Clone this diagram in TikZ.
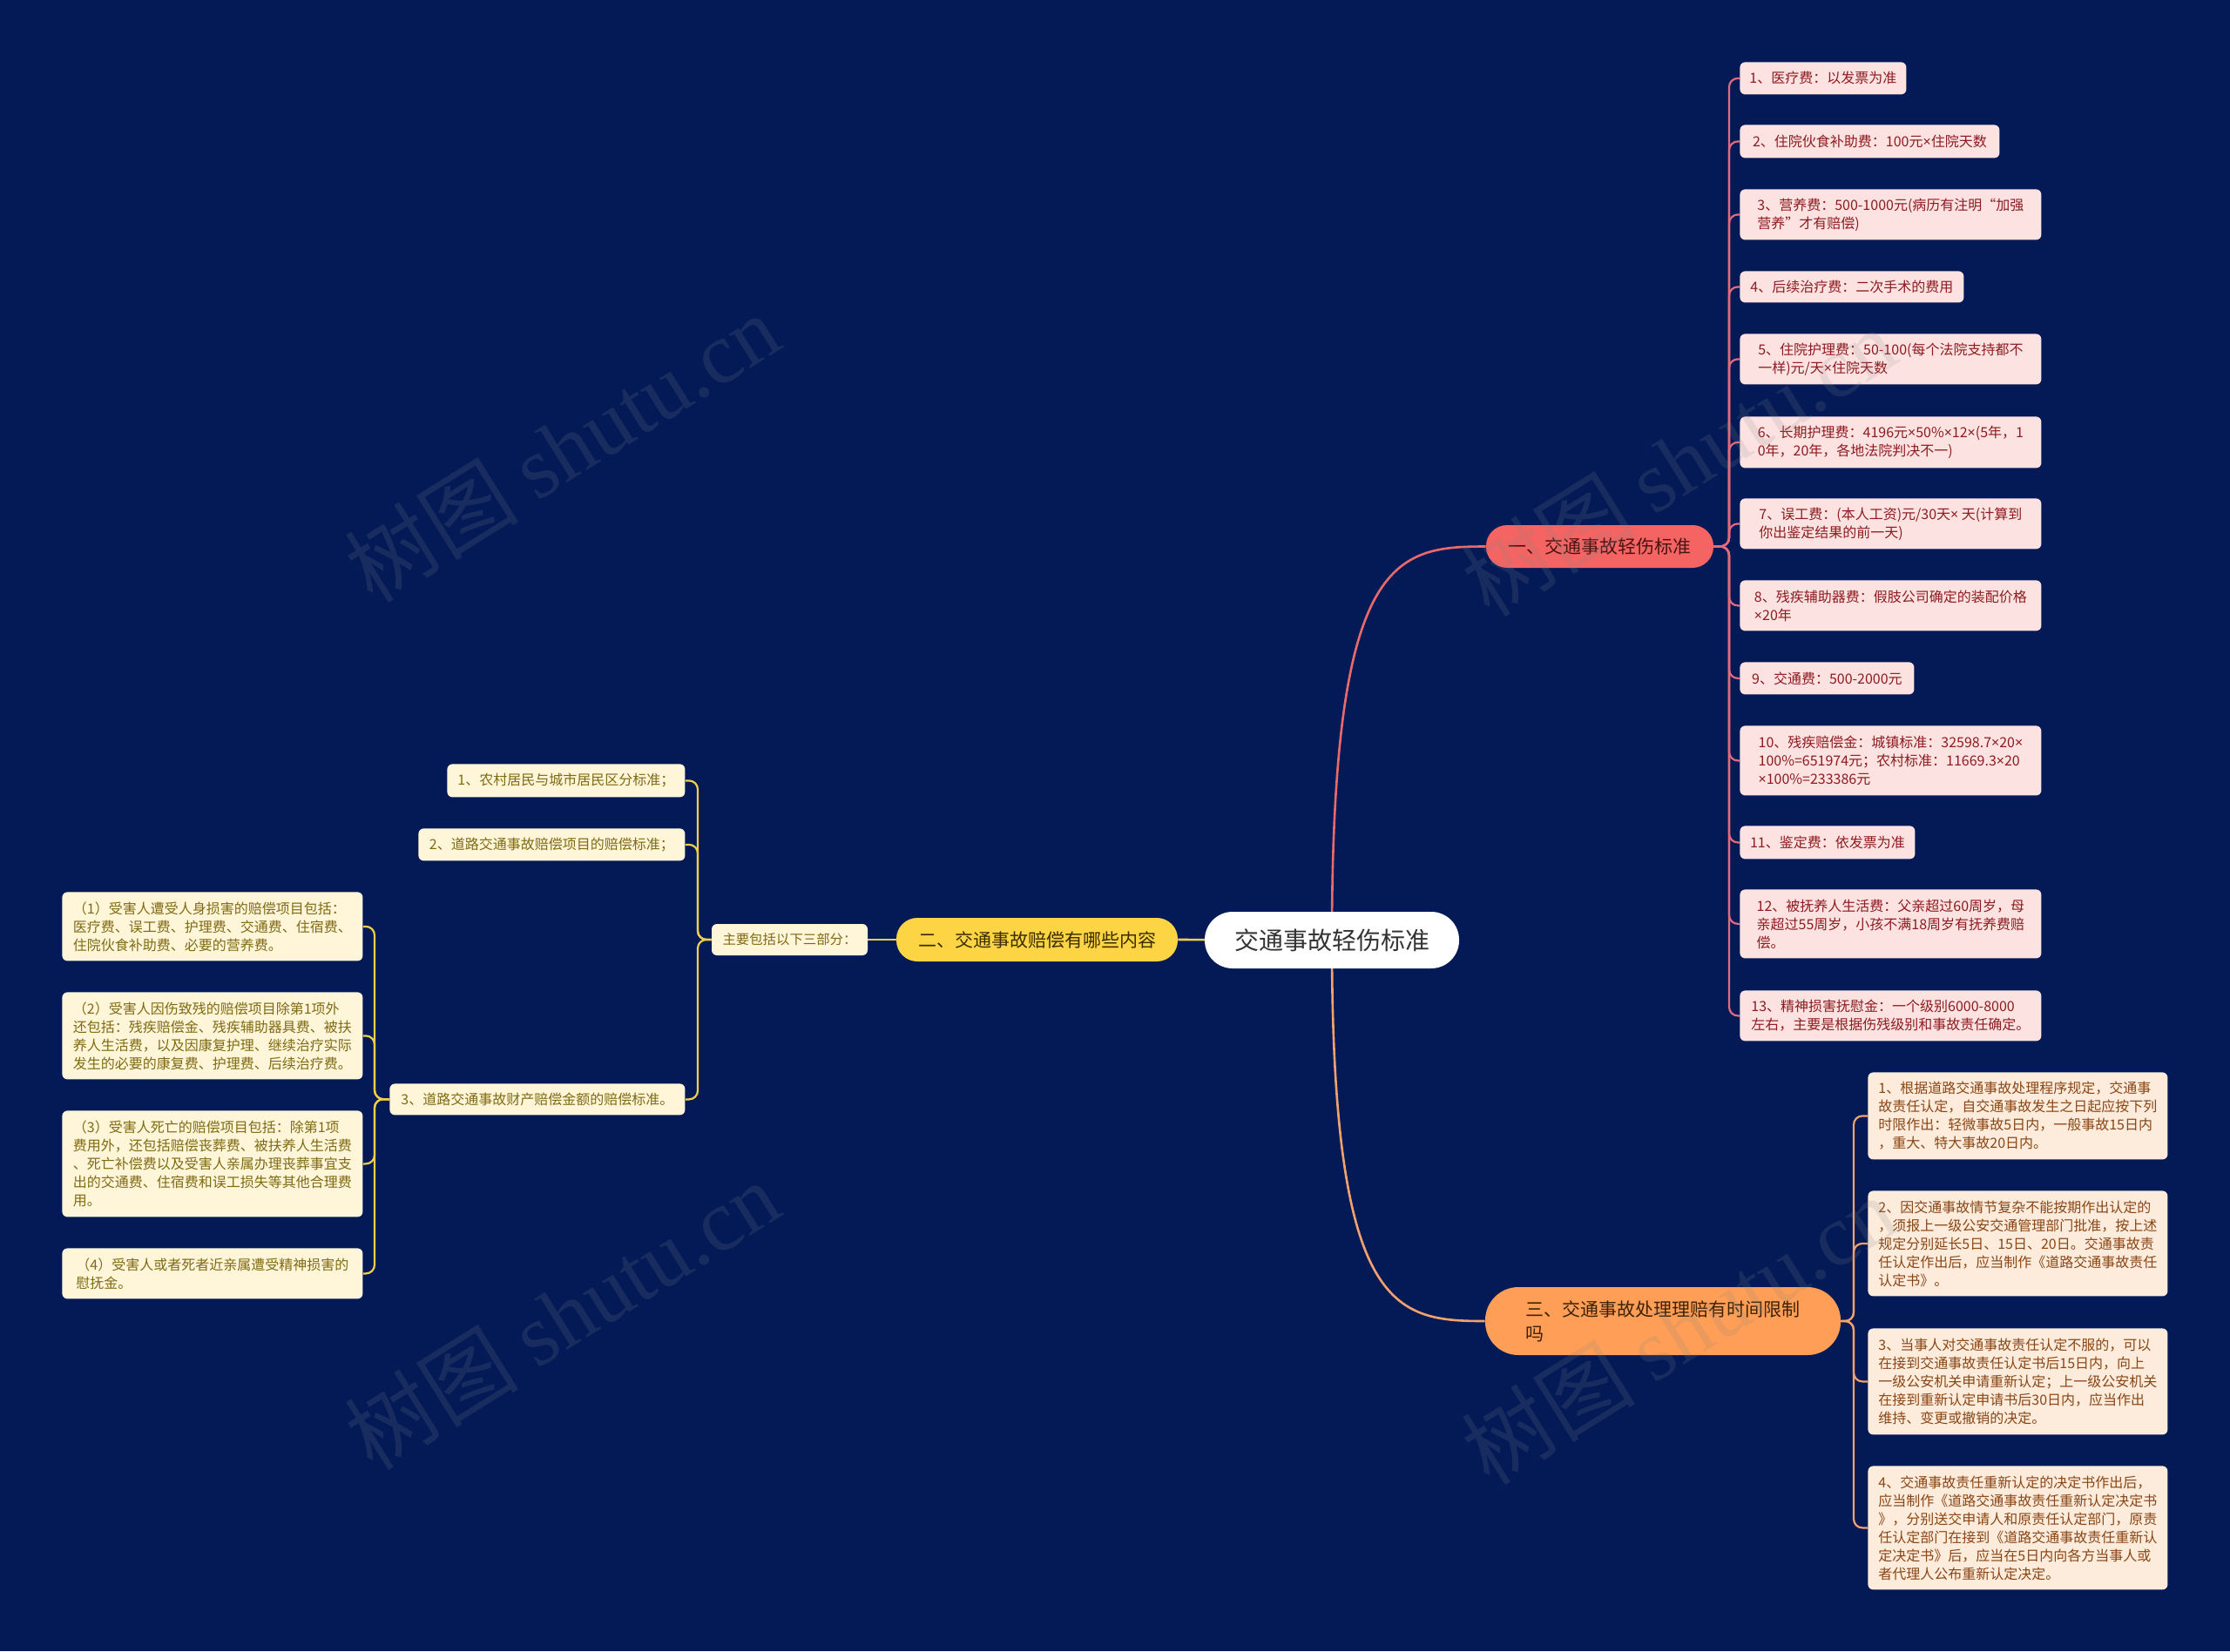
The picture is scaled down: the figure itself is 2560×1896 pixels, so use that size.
\documentclass[tikz,border=0pt]{standalone}
\usepackage{fontspec}
\setmainfont{Noto Sans CJK SC}
\newfontfamily\wmlatin{Liberation Serif}
\newfontfamily\latinf{Noto Sans}
\newcommand\tms{{\latinf ×}}
\usetikzlibrary{calc}
\pgfdeclarelayer{bgl}
\pgfdeclarelayer{edges}
\pgfdeclarelayer{fg}
\pgfsetlayers{bgl,edges,main,fg}
\definecolor{bgc}{HTML}{031A57}
\definecolor{rootText}{HTML}{333333}
\definecolor{bOneFill}{HTML}{F36462}
\definecolor{bOneText}{HTML}{4A1414}
\definecolor{pinkFill}{HTML}{FDE2E2}
\definecolor{pinkText}{HTML}{8E1B1F}
\definecolor{pinkEdge}{HTML}{E26A7C}
\definecolor{bTwoFill}{HTML}{FDD443}
\definecolor{bTwoText}{HTML}{3A2E00}
\definecolor{creamFill}{HTML}{FFF6DA}
\definecolor{creamText}{HTML}{7F6A12}
\definecolor{yellowEdge}{HTML}{F2CF4A}
\definecolor{bThreeFill}{HTML}{FF9E56}
\definecolor{bThreeText}{HTML}{3D2206}
\definecolor{peachFill}{HTML}{FDEBDC}
\definecolor{peachText}{HTML}{8A4614}
\definecolor{orangeEdge}{HTML}{F4A26B}
\definecolor{redEdge}{HTML}{EA6A6C}
\definecolor{wmGray}{HTML}{8A8A8A}
\tikzset{
  card/.style={rectangle, rounded corners=3pt, anchor=north west, align=left,
    inner xsep=4pt, inner ysep=3pt, font=\fontsize{8pt}{10.5pt}\selectfont},
  pinkcard/.style={card, fill=pinkFill, text=pinkText, minimum width=173pt},
  creamcard/.style={card, fill=creamFill, text=creamText},
  peachcard/.style={card, fill=peachFill, text=peachText, minimum width=172pt},
  branch/.style={rectangle, align=left, inner sep=0pt,
    font=\fontsize{10.5pt}{12.5pt}\selectfont},
  edgeline/.style={line width=1.1pt, rounded corners=5pt},
  wm/.style={rotate=32, text=wmGray, text opacity=0.17,
    font=\fontsize{50pt}{50pt}\selectfont, inner sep=0pt}
}
\begin{document}
\begin{tikzpicture}[x=0.5pt, y=-0.5pt]
\begin{pgfonlayer}{bgl}
\fill[bgc] (0,0) rectangle (2560,1896);
\end{pgfonlayer}
\useasboundingbox (0,0) rectangle (2560,1896);

% root and branches
\node[branch, fill=white, text=rootText, rounded corners=16pt, minimum width=146pt,
  minimum height=32.5pt, font=\fontsize{14pt}{16pt}\selectfont] (root) at (1529,1079.5) {交通事故轻伤标准};
\node[branch, fill=bOneFill, text=bOneText, rounded corners=12pt, minimum width=130.5pt,
  minimum height=24.5pt] (b1) at (1836.5,627.5) {一、交通事故轻伤标准};
\node[branch, fill=bTwoFill, text=bTwoText, rounded corners=12pt, minimum width=161.5pt,
  minimum height=25pt] (b2) at (1190.5,1079) {二、交通事故赔偿有哪些内容};
\node[branch, fill=bThreeFill, text=bThreeText, rounded corners=19pt, minimum width=204pt,
  minimum height=39pt, font=\fontsize{10.5pt}{14pt}\selectfont] (b3) at (1909,1517) {三、交通事故处理理赔有时间限制\\吗};

% branch 1 children
\node[pinkcard, minimum width=95.5pt, minimum height=18.5pt] (r1) at (1997,71) {1、医疗费：以发票为准};
\node[pinkcard, minimum width=149pt, minimum height=19pt] (r2) at (1997,143) {2、住院伙食补助费：100元\tms 住院天数};
\node[pinkcard, minimum height=29pt] (r3) at (1997,217) {3、营养费：500-1000元(病历有注明“加强\\营养”才有赔偿)};
\node[pinkcard, minimum width=128.5pt, minimum height=18pt] (r4) at (1997,311) {4、后续治疗费：二次手术的费用};
\node[pinkcard, minimum height=29pt] (r5) at (1997,383) {5、住院护理费：50-100(每个法院支持都不\\一样)元/天\tms 住院天数};
\node[pinkcard, minimum height=29.5pt] (r6) at (1997,478) {6、长期护理费：4196元\tms 50\%\tms 12\tms (5年，1\\0年，20年，各地法院判决不一)};
\node[pinkcard, minimum height=29pt] (r7) at (1997,572) {7、误工费：(本人工资)元/30天\tms\ 天(计算到\\你出鉴定结果的前一天)};
\node[pinkcard, minimum height=29pt] (r8) at (1997,666) {8、残疾辅助器费：假肢公司确定的装配价格\\\tms 20年};
\node[pinkcard, minimum width=100pt, minimum height=18.5pt] (r9) at (1997,760) {9、交通费：500-2000元};
\node[pinkcard, minimum height=40pt] (r10) at (1997,833) {10、残疾赔偿金：城镇标准：32598.7\tms 20\tms\\100\%=651974元；农村标准：11669.3\tms 20\\\tms 100\%=233386元};
\node[pinkcard, minimum width=100.5pt, minimum height=19pt] (r11) at (1997,948) {11、鉴定费：依发票为准};
\node[pinkcard, minimum height=39.5pt] (r12) at (1997,1021) {12、被抚养人生活费：父亲超过60周岁，母\\亲超过55周岁，小孩不满18周岁有抚养费赔\\偿。};
\node[pinkcard, minimum height=29pt] (r13) at (1997,1137) {13、精神损害抚慰金：一个级别6000-8000\\左右，主要是根据伤残级别和事故责任确定。};

% branch 3 children
\node[peachcard, minimum height=50pt] (t1) at (2144,1231) {1、根据道路交通事故处理程序规定，交通事\\故责任认定，自交通事故发生之日起应按下列\\时限作出：轻微事故5日内，一般事故15日内\\，重大、特大事故20日内。};
\node[peachcard, minimum height=60.5pt] (t2) at (2144,1367) {2、因交通事故情节复杂不能按期作出认定的\\，须报上一级公安交通管理部门批准，按上述\\规定分别延长5日、15日、20日。交通事故责\\任认定作出后，应当制作《道路交通事故责任\\认定书》。};
\node[peachcard, minimum height=61pt] (t3) at (2144,1525) {3、当事人对交通事故责任认定不服的，可以\\在接到交通事故责任认定书后15日内，向上\\一级公安机关申请重新认定；上一级公安机关\\在接到重新认定申请书后30日内，应当作出\\维持、变更或撤销的决定。};
\node[peachcard, minimum height=71pt] (t4) at (2144,1683) {4、交通事故责任重新认定的决定书作出后，\\应当制作《道路交通事故责任重新认定决定书\\》，分别送交申请人和原责任认定部门，原责\\任认定部门在接到《道路交通事故责任重新认\\定决定书》后，应当在5日内向各方当事人或\\者代理人公布重新认定决定。};

% branch 2 subtree
\node[creamcard, minimum width=89.5pt, minimum height=18pt, anchor=center,
  font=\fontsize{7.7pt}{9pt}\selectfont] (m) at (906.5,1079) {主要包括以下三部分：};
\node[creamcard, minimum width=136.5pt, minimum height=19pt] (l1) at (513,877) {1、农村居民与城市居民区分标准；};
\node[creamcard, minimum width=153pt, minimum height=18.5pt] (l2) at (480,951) {2、道路交通事故赔偿项目的赔偿标准；};
\node[creamcard, minimum width=169.5pt, minimum height=18pt] (l3) at (447,1244) {3、道路交通事故财产赔偿金额的赔偿标准。};
\node[creamcard, minimum width=172.5pt, minimum height=39.5pt] (p1) at (71,1024) {（1）受害人遭受人身损害的赔偿项目包括：\\医疗费、误工费、护理费、交通费、住宿费、\\住院伙食补助费、必要的营养费。};
\node[creamcard, minimum width=172.5pt, minimum height=50pt] (p2) at (71,1139) {（2）受害人因伤致残的赔偿项目除第1项外\\还包括：残疾赔偿金、残疾辅助器具费、被扶\\养人生活费，以及因康复护理、继续治疗实际\\发生的必要的康复费、护理费、后续治疗费。};
\node[creamcard, minimum width=172.5pt, minimum height=61pt] (p3) at (71,1275) {（3）受害人死亡的赔偿项目包括：除第1项\\费用外，还包括赔偿丧葬费、被扶养人生活费\\、死亡补偿费以及受害人亲属办理丧葬事宜支\\出的交通费、住宿费和误工损失等其他合理费\\用。};
\node[creamcard, minimum width=172.5pt, minimum height=29pt] (p4) at (71,1433) {（4）受害人或者死者近亲属遭受精神损害的\\慰抚金。};

% spine points
\coordinate (s1) at (1985,627.5);
\coordinate (s3) at (2128,1517);
\coordinate (s2) at (801,1079);
\coordinate (s4) at (430,1262);

\begin{pgfonlayer}{edges}
\draw[edgeline, redEdge, line width=1.3pt] (root.center) .. controls (1529,640) and (1600,627.5) .. (b1.west);
\draw[edgeline, orangeEdge, line width=1.3pt] (root.center) .. controls (1529,1505) and (1600,1517) .. (b3.west);
\draw[edgeline, yellowEdge, line width=1.3pt] (root.center) -- (b2.east);
\foreach \i in {1,...,13} \draw[edgeline, pinkEdge] (b1.east) -- (s1) |- (r\i.west);
\foreach \i in {1,...,4} \draw[edgeline, orangeEdge] (b3.east) -- (s3) |- (t\i.west);
\draw[edgeline, yellowEdge] (b2.west) -- (m.east);
\foreach \i in {1,2,3} \draw[edgeline, yellowEdge] (m.west) -- (s2) |- (l\i.east);
\foreach \i in {1,...,4} \draw[edgeline, yellowEdge] (l3.west) -- (s4) |- (p\i.east);
\end{pgfonlayer}

% watermarks
\begin{pgfonlayer}{fg}
\node[wm] (wm1) at (645,514) {树图 {\wmlatin shutu.cn}};
\node[wm] (wm2) at (1927,530) {树图 {\wmlatin shutu.cn}};
\node[wm] (wm3) at (645,1510) {树图 {\wmlatin shutu.cn}};
\node[wm] (wm4) at (1927,1527) {树图 {\wmlatin shutu.cn}};
\end{pgfonlayer}
\end{tikzpicture}
\end{document}
